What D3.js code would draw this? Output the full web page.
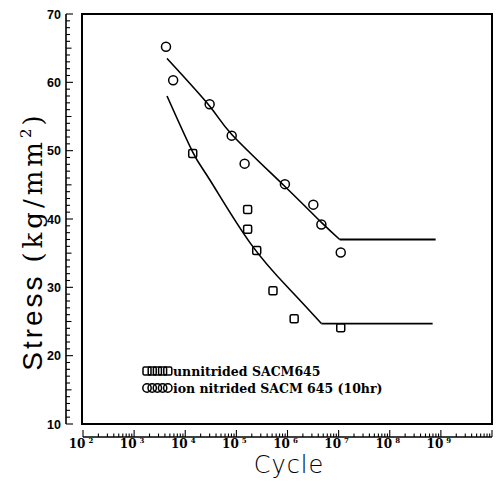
<!DOCTYPE html>
<html lang="en">
<head>
  <meta charset="utf-8">
  <title>S-N curve SACM645</title>
  <script src="https://d3js.org/d3.v7.min.js"></script>
  <style>
  body { margin: 0; background: #fff; }
  </style>
</head>
<body>
<div id="chart"></div>
<script>
// measured points (cycles to failure, stress kg/mm2)
var circleCycles = [4.2e3, 5.8e3, 3.0e4, 8.1e4, 1.45e5, 8.9e5, 3.2e6, 4.6e6, 1.1e7];
var circleStress = [65.2, 60.3, 56.8, 52.2, 48.1, 45.1, 42.1, 39.2, 35.1];
var squareCycles = [1.4e4, 1.66e5, 1.66e5, 2.5e5, 5.2e5, 1.35e6, 1.1e7];
var squareStress = [49.6, 41.4, 38.5, 35.4, 29.5, 25.4, 24.1];

// fitted S-N curves (last point = end of the flat part)
var nitridedFitCycles = [4.4e3, 3.1e4, 8.3e4, 8.5e5, 4.6e6, 1.05e7, 7.9e8];
var nitridedFitStress = [63.5, 56.4, 52.3, 44.9, 39.5, 37.0, 37.0];
var unnitridedFitCycles = [4.4e3, 1.4e4, 3.1e4, 1.9e5, 1.17e6, 4.6e6, 6.9e8];
var unnitridedFitStress = [58.0, 49.8, 45.6, 36.4, 29.5, 24.7, 24.7];

var yTickValues = [10, 20, 30, 40, 50, 60, 70];
var xDecadeExponents = [2, 3, 4, 5, 6, 7, 8, 9];
var legendLabels = ["unnitrided SACM645", "ion nitrided SACM 645 (10hr)"];

var W = 498, H = 483;
var frame = {left: 82, top: 14, right: 492, bottom: 424};

var svg = d3.select("#chart").append("svg")
  .attr("width", W)
  .attr("height", H);

var x = d3.scaleLog()
  .domain([1e2, 1e10])
  .range([83, 492]);

var y = d3.scaleLinear()
  .domain([10, 70])
  .range([frame.bottom, frame.top]);

// plot frame
svg.append("rect")
  .attr("x", frame.left)
  .attr("y", frame.top)
  .attr("width", frame.right - frame.left)
  .attr("height", frame.bottom - frame.top)
  .attr("fill", "none")
  .attr("stroke", "#000")
  .attr("stroke-width", 2);

// ---- x axis, detached below the frame, ticks pointing up
var axisY = 437;
var xAxisG = svg.append("g").attr("transform", "translate(0," + axisY + ")");
xAxisG.append("line")
  .attr("x1", x.range()[0]).attr("x2", x.range()[1])
  .attr("stroke", "#000").attr("stroke-width", 1.6);

xAxisG.selectAll("line.tick")
  .data(x.ticks())
  .enter().append("line")
    .attr("class", "tick")
    .attr("x1", function(d) { return x(d); })
    .attr("x2", function(d) { return x(d); })
    .attr("y1", 0)
    .attr("y2", function(d) {
      var m = d / Math.pow(10, Math.floor(Math.log10(d) + 1e-9));
      return Math.abs(m - 1) < 1e-6 ? -7 : -3.5;
    })
    .attr("stroke", "#000")
    .attr("stroke-width", 1.1);

var xLab = xAxisG.selectAll("text.xlab")
  .data(xDecadeExponents)
  .enter().append("text")
    .attr("class", "xlab")
    .attr("x", function(d) { return x(Math.pow(10, d)) - 2; })
    .attr("y", 11)
    .attr("text-anchor", "middle")
    .style("font-family", "'DejaVu Serif', serif")
    .style("font-weight", "bold")
    .style("font-size", "12px");
xLab.append("tspan").text("10");
xLab.append("tspan")
  .attr("dx", 3)
  .attr("dy", -5)
  .style("font-size", "7px")
  .text(function(d) { return d; });

svg.append("text")
  .attr("x", 289)
  .attr("y", 473)
  .attr("text-anchor", "middle")
  .style("font-family", "'DejaVu Sans', sans-serif")
  .style("font-weight", "300")
  .style("font-size", "24px")
  .style("letter-spacing", "1px")
  .text("Cycle");

// ---- y axis, detached left of the frame, ticks pointing right
var axisX = 66;
var yAxisG = svg.append("g").attr("transform", "translate(" + axisX + ",0)");
yAxisG.append("line")
  .attr("y1", y(10)).attr("y2", y(70))
  .attr("stroke", "#000").attr("stroke-width", 1.6);

yAxisG.selectAll("line.tick")
  .data(d3.range(10, 70.5, 1))
  .enter().append("line")
    .attr("class", "tick")
    .attr("x1", 0)
    .attr("x2", function(d) { return d % 10 === 0 ? 7 : (d % 5 === 0 ? 5.5 : 4); })
    .attr("y1", function(d) { return y(d); })
    .attr("y2", function(d) { return y(d); })
    .attr("stroke", "#000")
    .attr("stroke-width", 1.1);

yAxisG.selectAll("text.ylab")
  .data(yTickValues)
  .enter().append("text")
    .attr("class", "ylab")
    .attr("x", -5)
    .attr("y", function(d) { return y(d); })
    .attr("dy", "0.36em")
    .attr("text-anchor", "end")
    .style("font-family", "'Liberation Sans', Arial, sans-serif")
    .style("font-weight", "bold")
    .style("font-size", "12.5px")
    .text(function(d) { return d; });

var yTitle = svg.append("text")
  .attr("transform", "translate(42,243) rotate(-90)")
  .attr("text-anchor", "middle");
yTitle.append("tspan")
  .style("font-family", "'Liberation Sans', Arial, sans-serif")
  .style("font-size", "28px")
  .style("letter-spacing", "3px")
  .text("Stress ");
yTitle.append("tspan")
  .style("font-family", "'DejaVu Serif', serif")
  .style("font-size", "26px")
  .style("letter-spacing", "4px")
  .text("(kg/mm");
yTitle.append("tspan")
  .attr("dy", -11)
  .style("font-family", "'DejaVu Serif', serif")
  .style("font-size", "15px")
  .text("2");
yTitle.append("tspan")
  .attr("dy", 11)
  .attr("dx", 3)
  .style("font-family", "'DejaVu Serif', serif")
  .style("font-size", "26px")
  .text(")");

// ---- fitted curves: smooth part up to the knee + flat endurance limit
function drawFit(cycles, stress) {
  var pts = cycles.map(function(c, i) { return [x(c), y(stress[i])]; });
  var curved = pts.slice(0, pts.length - 1);
  var flat = pts.slice(pts.length - 2);
  svg.append("path")
    .attr("d", d3.line().curve(d3.curveNatural)(curved))
    .attr("fill", "none").attr("stroke", "#000").attr("stroke-width", 1.6);
  svg.append("path")
    .attr("d", d3.line()(flat))
    .attr("fill", "none").attr("stroke", "#000").attr("stroke-width", 1.8);
}
drawFit(nitridedFitCycles, nitridedFitStress);
drawFit(unnitridedFitCycles, unnitridedFitStress);

// ---- markers
svg.selectAll("circle.pt")
  .data(circleCycles)
  .enter().append("circle")
    .attr("class", "pt")
    .attr("cx", function(d) { return x(d); })
    .attr("cy", function(d, i) { return y(circleStress[i]); })
    .attr("r", 4.5)
    .attr("fill", "none")
    .attr("stroke", "#000")
    .attr("stroke-width", 1.5);

svg.selectAll("rect.pt")
  .data(squareCycles)
  .enter().append("rect")
    .attr("class", "pt")
    .attr("x", function(d) { return x(d) - 4; })
    .attr("y", function(d, i) { return y(squareStress[i]) - 4; })
    .attr("width", 8)
    .attr("height", 8)
    .attr("rx", 1.5)
    .attr("fill", "none")
    .attr("stroke", "#000")
    .attr("stroke-width", 1.5);

// ---- legend
var legend = svg.append("g").attr("transform", "translate(143,371)");
var symbolIdx = [0, 1, 2, 3, 4];
legend.selectAll("rect")
  .data(symbolIdx)
  .enter().append("rect")
    .attr("x", function(d) { return d * 5.2; })
    .attr("y", -4)
    .attr("width", 8).attr("height", 8).attr("rx", 1.5)
    .attr("fill", "none").attr("stroke", "#000").attr("stroke-width", 1.5);
legend.selectAll("circle")
  .data(symbolIdx)
  .enter().append("circle")
    .attr("cx", function(d) { return 4 + d * 5.2; })
    .attr("cy", 17)
    .attr("r", 4.2)
    .attr("fill", "none").attr("stroke", "#000").attr("stroke-width", 1.5);
legend.selectAll("text")
  .data(legendLabels)
  .enter().append("text")
    .attr("x", 30)
    .attr("y", function(d, i) { return i * 17; })
    .attr("dy", "0.36em")
    .style("font-family", "'DejaVu Serif', serif")
    .style("font-weight", "bold")
    .style("font-size", "12.5px")
    .text(function(d) { return d; });
</script>
</body>
</html>
